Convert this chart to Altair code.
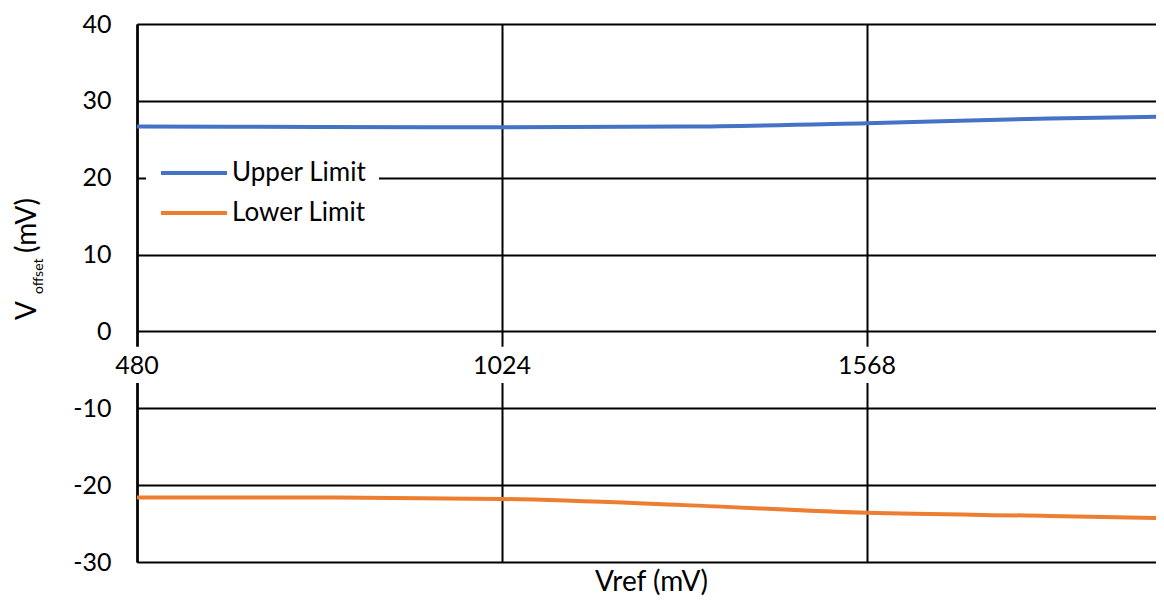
import altair as alt
import pandas as pd

# ---- data ----
vref = [480, 752, 1024, 1296, 1568, 1840, 2016]
upper = [26.65, 26.6, 26.55, 26.65, 27.1, 27.7, 27.95]
lower = [-21.6, -21.6, -21.8, -22.6, -23.6, -24.0, -24.3]
series_names = ["Upper Limit", "Lower Limit"]
series_colors = ["#4472C4", "#ED7D31"]
x_ticks = [480, 1024, 1568]
y_ticks = [-30, -20, -10, 0, 10, 20, 30, 40]
x_title = "Vref (mV)"
y_title_main = "V"
y_title_sub = "offset"
y_title_unit = "(mV)"

rows = []
for v, u, l in zip(vref, upper, lower):
    rows.append({"Vref": v, "Series": series_names[0], "Voffset": u})
    rows.append({"Vref": v, "Series": series_names[1], "Voffset": l})
df = pd.DataFrame(rows)
tick_df = pd.DataFrame({"Vref": x_ticks, "label": [str(t) for t in x_ticks]})

FONT = "Lato"
xscale = alt.Scale(domain=[480, 1998.7], nice=False, zero=False)
yscale = alt.Scale(domain=[-30, 40], nice=False, zero=False)

x_axis = alt.Axis(values=x_ticks, labels=False, ticks=False, domain=False,
                  grid=True, gridColor="#000", gridWidth=2, gridOpacity=1,
                  title=x_title, titleFont=FONT, titleFontSize=28,
                  titleFontWeight="normal", titleColor="#000",
                  titleX=514, titleY=20, titleBaseline="middle")
y_axis = alt.Axis(values=y_ticks, title=None, ticks=False, domain=True,
                  domainColor="#000", domainWidth=2.5,
                  grid=True, gridColor="#000", gridWidth=2, gridOpacity=1,
                  labelFont=FONT, labelFontSize=25, labelColor="#000",
                  labelPadding=26, labelExpr="'' + datum.value")

lines = alt.Chart(df).mark_line(strokeWidth=4, interpolate="monotone", clip=True).encode(
    x=alt.X("Vref:Q", scale=xscale, axis=x_axis),
    y=alt.Y("Voffset:Q", scale=yscale, axis=y_axis),
    color=alt.Color("Series:N", sort=series_names,
                    scale=alt.Scale(domain=series_names, range=series_colors),
                    legend=alt.Legend(title=None, orient="none", legendX=9, legendY=124,
                                      fillColor="white", padding=12,
                                      symbolType="M-1,0L5.6,0", symbolSize=400,
                                      symbolStrokeWidth=4, labelFont=FONT,
                                      labelFontSize=26, labelColor="#000",
                                      labelOffset=48, rowPadding=14, labelLimit=300)),
)

label_bg = alt.Chart(tick_df).transform_calculate(
    x1="datum.Vref - 48", x2="datum.Vref + 48", ylo="-2.0", yhi="-6.7"
).mark_rect(color="white").encode(
    x=alt.X("x1:Q", scale=xscale, axis=x_axis),
    x2="x2:Q",
    y=alt.Y("ylo:Q", scale=yscale, axis=y_axis),
    y2="yhi:Q",
)

label_text = alt.Chart(tick_df).transform_calculate(
    ypos="-4.45"
).mark_text(
    font=FONT, fontSize=25, color="#000", baseline="middle", align="center"
).encode(
    x=alt.X("Vref:Q", scale=xscale, axis=x_axis),
    y=alt.Y("ypos:Q", scale=yscale, axis=y_axis),
    text="label:N",
)


def ytitle_piece(text, size, xpx, ypx):
    return alt.Chart(pd.DataFrame({"t": [text]})).mark_text(
        angle=270, align="left", baseline="alphabetic", font=FONT,
        fontSize=size, color="#000"
    ).encode(x=alt.value(xpx), y=alt.value(ypx), text="t:N")


yt1 = ytitle_piece(y_title_main, 28, -101, 296)
yt2 = ytitle_piece(y_title_sub, 14, -94, 270)
yt3 = ytitle_piece(y_title_unit, 28, -101, 229)

chart = alt.layer(lines, label_bg, label_text, yt1, yt2, yt3).properties(
    width=1019, height=538,
    autosize=alt.AutoSizeParams(type="none"),
    padding={"left": 129, "top": 16, "right": 0, "bottom": 35},
    background="white",
).configure_view(stroke=None)

chart.save("out.html", embed_options={"renderer": "svg", "actions": False})
